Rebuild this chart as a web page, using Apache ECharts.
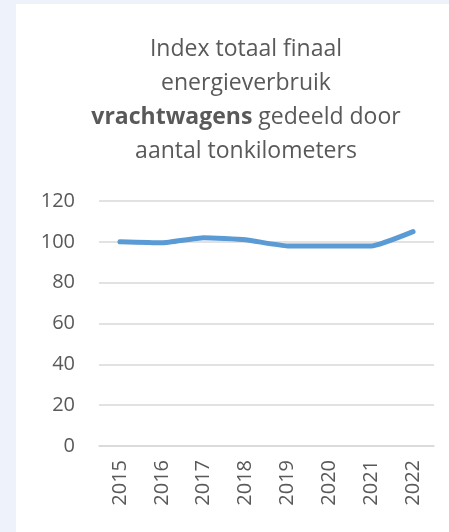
<!DOCTYPE html>
<html>
<head>
<meta charset="utf-8">
<script src="https://cdn.jsdelivr.net/npm/echarts@6/dist/echarts.min.js"></script>
<style>
  body { margin: 0; background: #eef2fa; }
  #main { position: absolute; left: 16px; top: 4px; width: 433px; height: 528px; background: #ffffff; }
</style>
</head>
<body>
<div id="main"></div>
<script>
var years = ['2015', '2016', '2017', '2018', '2019', '2020', '2021', '2022'];
var indexValues = [100, 99.5, 102, 101, 98, 98, 98, 105];
var yTicks = [0, 20, 40, 60, 80, 100, 120];

var chart = echarts.init(document.getElementById('main'));

var option = {
  animation: false,
  textStyle: { fontFamily: 'Open Sans, Liberation Sans, sans-serif' },
  title: {
    text: '{a|Index totaal finaal}\n{a|energieverbruik}\n{b|vrachtwagens}{a| gedeeld door}\n{a|aantal tonkilometers}',
    left: 225,
    textAlign: 'center',
    top: 23,
    textStyle: {
      fontWeight: 'normal',
      rich: {
        a: { fontSize: 23, color: '#595959', lineHeight: 34, fontWeight: 'normal', fontFamily: 'Open Sans' },
        b: { fontSize: 23, color: '#595959', lineHeight: 34, fontWeight: 'bold', fontFamily: 'Open Sans' }
      }
    }
  },
  grid: { left: 83, right: 15, top: 197, bottom: 86 },
  xAxis: {
    type: 'category',
    data: years,
    axisLine: { lineStyle: { color: '#d9d9d9', width: 1.5 } },
    axisTick: { show: false },
    axisLabel: { rotate: 90, color: '#595959', fontSize: 20, margin: 14 }
  },
  yAxis: {
    type: 'value',
    min: yTicks[0],
    max: yTicks[yTicks.length - 1],
    interval: 20,
    axisLine: { show: false },
    axisTick: { show: false },
    axisLabel: { color: '#595959', fontSize: 20, margin: 24 },
    splitLine: { lineStyle: { color: '#d9d9d9', width: 1.5 } }
  },
  series: [
    {
      type: 'line',
      data: indexValues,
      showSymbol: false,
      smooth: 0.15,
      lineStyle: { color: '#5b9bd5', width: 5, cap: 'round', join: 'round' }
    }
  ]
};

chart.setOption(option);
</script>
</body>
</html>
